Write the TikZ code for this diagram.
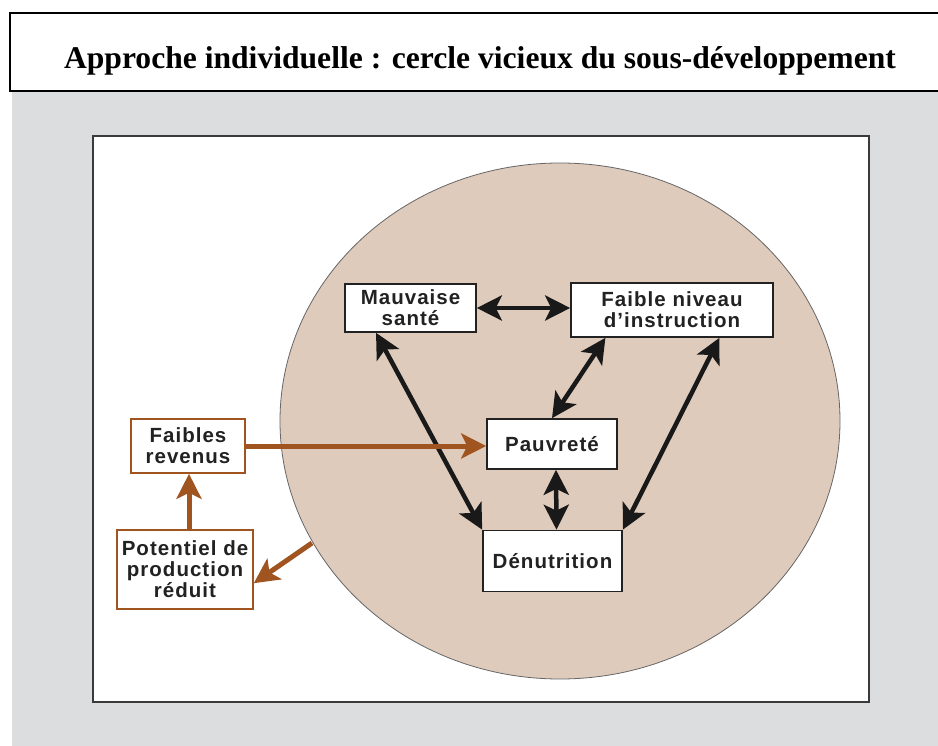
\documentclass[tikz,border=0pt]{standalone}
\usepackage{fontspec}
\usetikzlibrary{arrows.meta,calc}
\newfontfamily\titlefont{Liberation Serif}
\newfontfamily\boxfont[LetterSpace=5]{Liberation Sans}
\definecolor{bggray}{HTML}{DCDDDF}
\definecolor{ellcol}{HTML}{DFCBBC}
\definecolor{brn}{HTML}{A0541F}
\definecolor{txt}{HTML}{222222}
\definecolor{frame}{HTML}{3A3A3A}
\tikzset{
  bbox/.style={draw=txt, line width=1.6pt, fill=white, inner sep=0pt, align=center,
     text=txt, font=\boxfont\bfseries\fontsize{20.5}{21}\selectfont},
  brbox/.style={bbox, draw=brn},
  tipk/.tip={Stealth[length=25pt,width=25pt,inset=6pt]},
  blk/.style={line width=4.5pt, draw=black!90, tipk-tipk},
  brarr/.style={line width=5pt, draw=brn, -tipk}
}
\begin{document}
\begin{tikzpicture}[x=1pt,y=-1pt]
\useasboundingbox (0,0) rectangle (938,746);
% backgrounds
\fill[bggray] (12,91) rectangle (938,746);
\draw[line width=1.3pt, fill=white] (10,13) rectangle (948,91);
\node[anchor=base, font=\titlefont\bfseries\fontsize{31.6}{36}\selectfont] (title) at (480,69)
  {Approche individuelle : cercle vicieux du sous-développement};
\draw[line width=2pt, draw=frame, fill=white] (93,136) rectangle (869,702);
\draw[line width=0.8pt, draw=black!60, fill=ellcol] (560,421) ellipse [x radius=280, y radius=258];
% nodes
\node[bbox, minimum width=131pt, minimum height=48pt] (ms) at (410.5,308) {Mauvaise\\santé};
\node[bbox, minimum width=202pt, minimum height=54pt] (fn) at (672,310) {Faible niveau\\d’instruction};
\node[bbox, minimum width=130pt, minimum height=50pt] (pv) at (552,444) {Pauvreté};
\node[bbox, minimum width=139pt, minimum height=61pt] (dn) at (552.5,561) {Dénutrition};
\node[brbox, minimum width=114pt, minimum height=54pt] (fr) at (188,446) {Faibles\\revenus};
\node[brbox, minimum width=136pt, minimum height=79pt] (pp) at (185,569.5) {Potentiel de\\production\\réduit};
\coordinate (e1) at (312,543);
% black arrows
\draw[blk] (ms.east) -- (ms.east -| fn.west);
\draw[blk] ($(ms.south west)!0.24!(ms.south east)$) -- (dn.north west);
\draw[blk] ($(fn.south west)!0.173!(fn.south east)$) -- (pv.north);
\draw[blk] ($(fn.south west)!0.733!(fn.south east)$) -- (dn.north east);
\draw[blk] ($(pv.south)+(4,0)$) -- ($(dn.north)+(4,0)$);
% brown arrows
\draw[brarr] (fr.east) -- (fr.east -| pv.west);
\draw[brarr] ($(pp.north)+(4,0)$) -- ($(fr.south)+(1,0)$);
\draw[brarr] (e1) -- ($(pp.south east)!0.33!(pp.north east)$);
\end{tikzpicture}
\end{document}
